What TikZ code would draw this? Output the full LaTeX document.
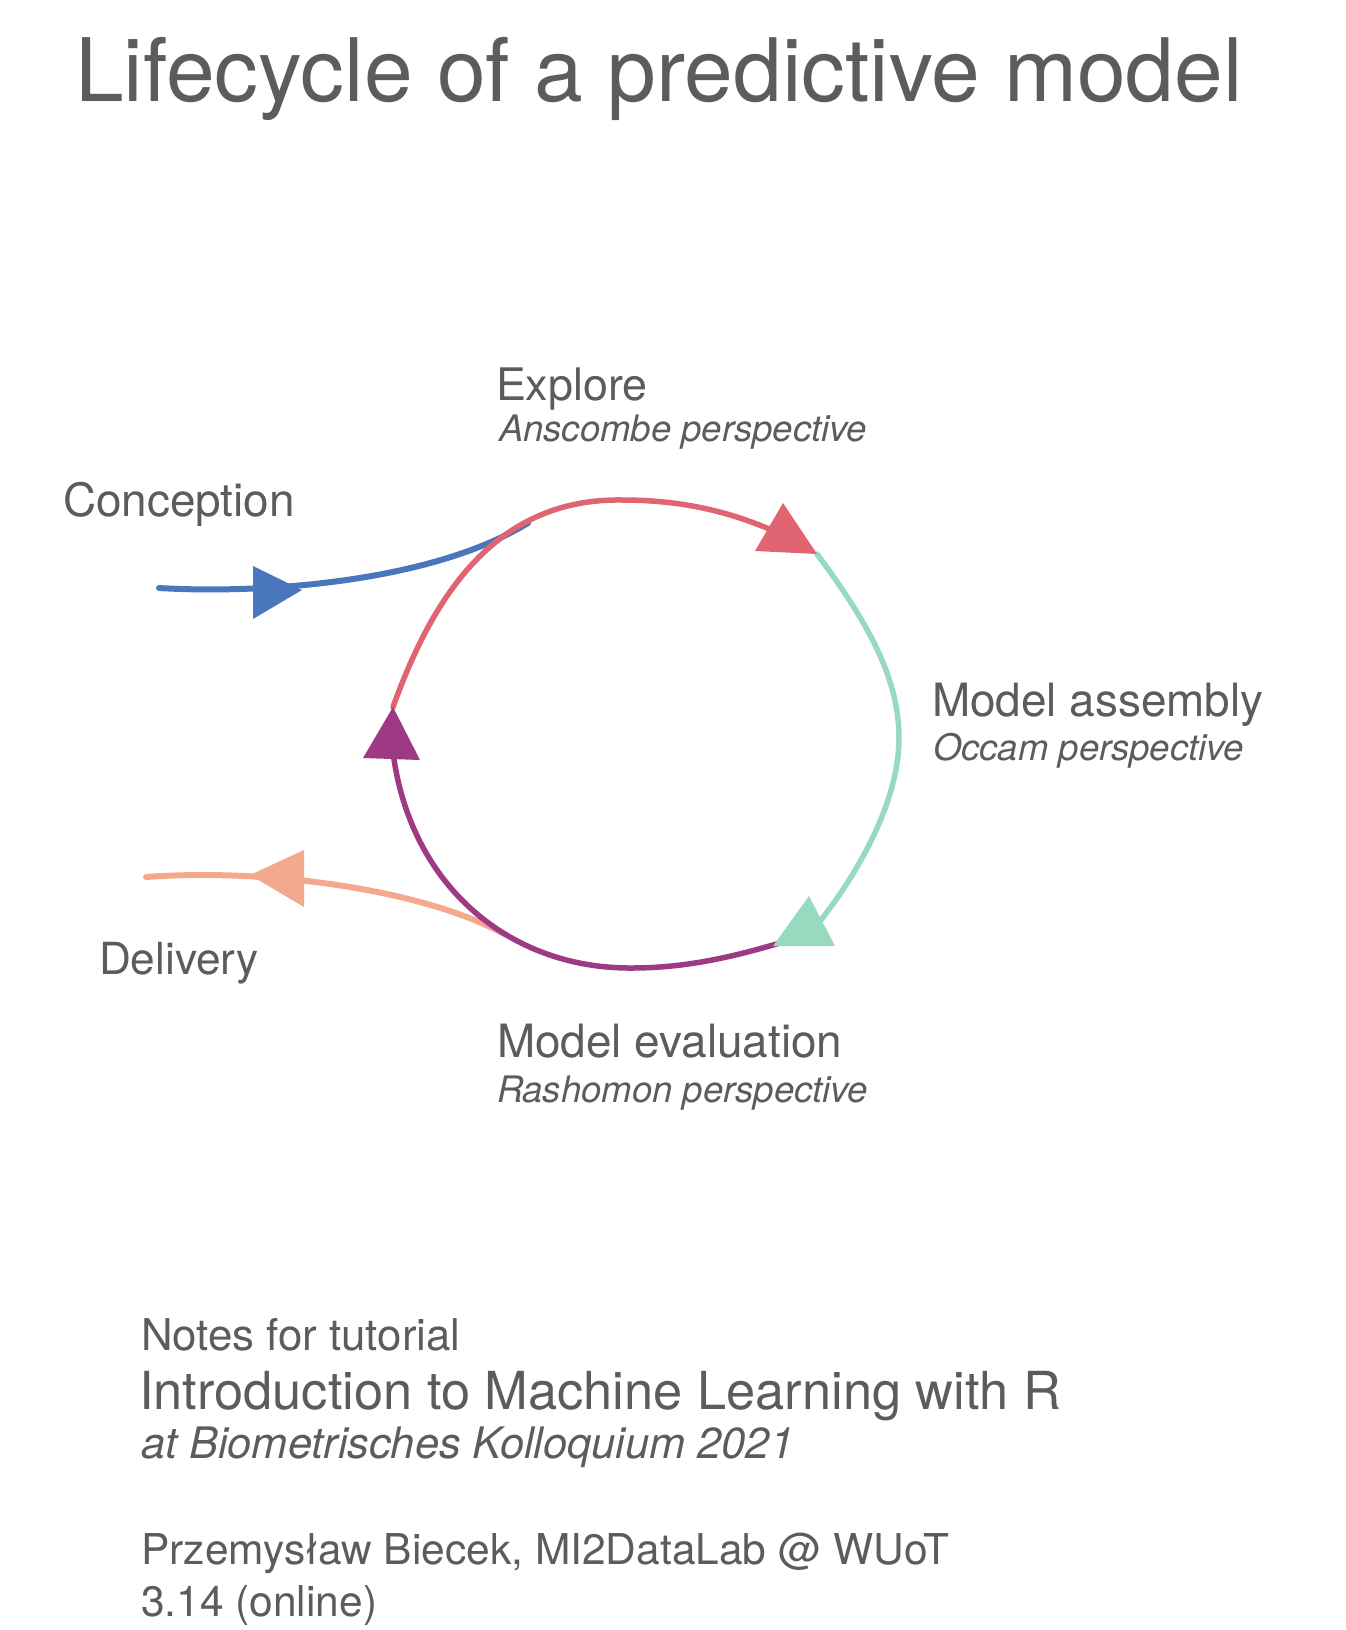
\documentclass[tikz,border=0pt]{standalone}
\usepackage{fontspec}
\setmainfont{TeX Gyre Heros}
\definecolor{textgray}{HTML}{5C5C5C}
\definecolor{cblue}{HTML}{4A76BD}
\definecolor{cred}{HTML}{E06471}
\definecolor{cgreen}{HTML}{98DABF}
\definecolor{cpurple}{HTML}{9E3A83}
\definecolor{csalmon}{HTML}{F4A98F}
\begin{document}
\begin{tikzpicture}[x=1pt,y=-1pt,
  txt/.style={inner sep=0pt, outer sep=0pt, anchor=base west, text=textgray},
  lbl/.style={txt, font=\fontsize{45.9}{55}\selectfont},
  sublbl/.style={txt, font=\fontsize{36.5}{44}\selectfont\itshape},
  cyc/.style={line width=5.5pt, line cap=round},
  ext/.style={line width=6pt, line cap=round},
]
\path[fill=white, use as bounding box] (0,0) rectangle (1346,1630);

% title
\node[txt, font=\fontsize{87.6}{100}\selectfont] (title) at (75,101) {Lifecycle of a predictive model};

% stage labels
\node[lbl, font=\fontsize{44.8}{54}\selectfont] (explore) at (496,400) {Explore};
\node[sublbl] (anscombe) at (499,441) {Anscombe perspective};
\node[lbl] (conception) at (63,516) {Conception};
\node[lbl] (assembly) at (932,716) {Model assembly};
\node[sublbl] (occam) at (933,760) {Occam perspective};
\node[lbl, font=\fontsize{44.2}{53}\selectfont] (delivery) at (99,974) {Delivery};
\node[lbl] (evaluation) at (497,1057) {Model evaluation};
\node[sublbl] (rashomon) at (497,1102) {Rashomon perspective};

% footer
\node[txt, font=\fontsize{43.8}{52}\selectfont] (notes) at (141,1350) {Notes for tutorial};
\node[txt, font=\fontsize{52.4}{62}\selectfont] (intro) at (139,1409) {Introduction to Machine Learning with R};
\node[txt, font=\fontsize{43.4}{52}\selectfont\itshape] (venue) at (141,1458) {at Biometrisches Kolloquium 2021};
\node[txt, font=\fontsize{42.5}{51}\selectfont] (author) at (141,1564) {Przemysław Biecek, MI2DataLab @ WUoT};
\node[txt, font=\fontsize{42.5}{51}\selectfont] (date) at (141,1616) {3.14 (online)};

% key points of the cycle
\coordinate (pTip) at (393,707);
\coordinate (top) at (622,500);
\coordinate (rTri) at (785,536);
\coordinate (rEnd) at (817,554);
\coordinate (right) at (899,738);
\coordinate (gEnd) at (821,920);
\coordinate (pStart) at (790,940);
\coordinate (bottom) at (632,968);
\coordinate (pEnd) at (393,752);
\coordinate (bStart) at (159,588);
\coordinate (bEnd) at (528,523);
\coordinate (sStart) at (506,935);
\coordinate (sEnd) at (146,877);

% conception arrow
\draw[ext, cblue] (bStart) .. controls (260,594) and (430,583) .. (bEnd);
% explore arc
\draw[cyc, cred] (pTip) .. controls (430,605) and (490,498) .. (top)
  .. controls (690,500) and (740,515) .. (rTri);
% assembly arc
\draw[cyc, cgreen] (rEnd) .. controls (870,625) and (899,680) .. (right)
  .. controls (899,800) and (860,870) .. (gEnd);
% delivery arrow
\draw[ext, csalmon] (sStart) .. controls (425,890) and (270,868) .. (sEnd);
% evaluation arc
\draw[cyc, cpurple] (pStart) .. controls (740,955) and (690,968) .. (bottom)
  .. controls (510,969) and (410,886) .. (pEnd);

% arrow triangles
\fill[cblue] (253,566) -- (302,590) -- (253,619) -- cycle;
\fill[cred] (783,503) -- (755,551) -- (817,554) -- cycle;
\fill[cgreen] (809,896) -- (773,946) -- (835,946) -- cycle;
\fill[cpurple] (393,707) -- (363,758) -- (420,760) -- cycle;
\fill[csalmon] (250,875) -- (304,850) -- (304,907) -- cycle;
\end{tikzpicture}
\end{document}
